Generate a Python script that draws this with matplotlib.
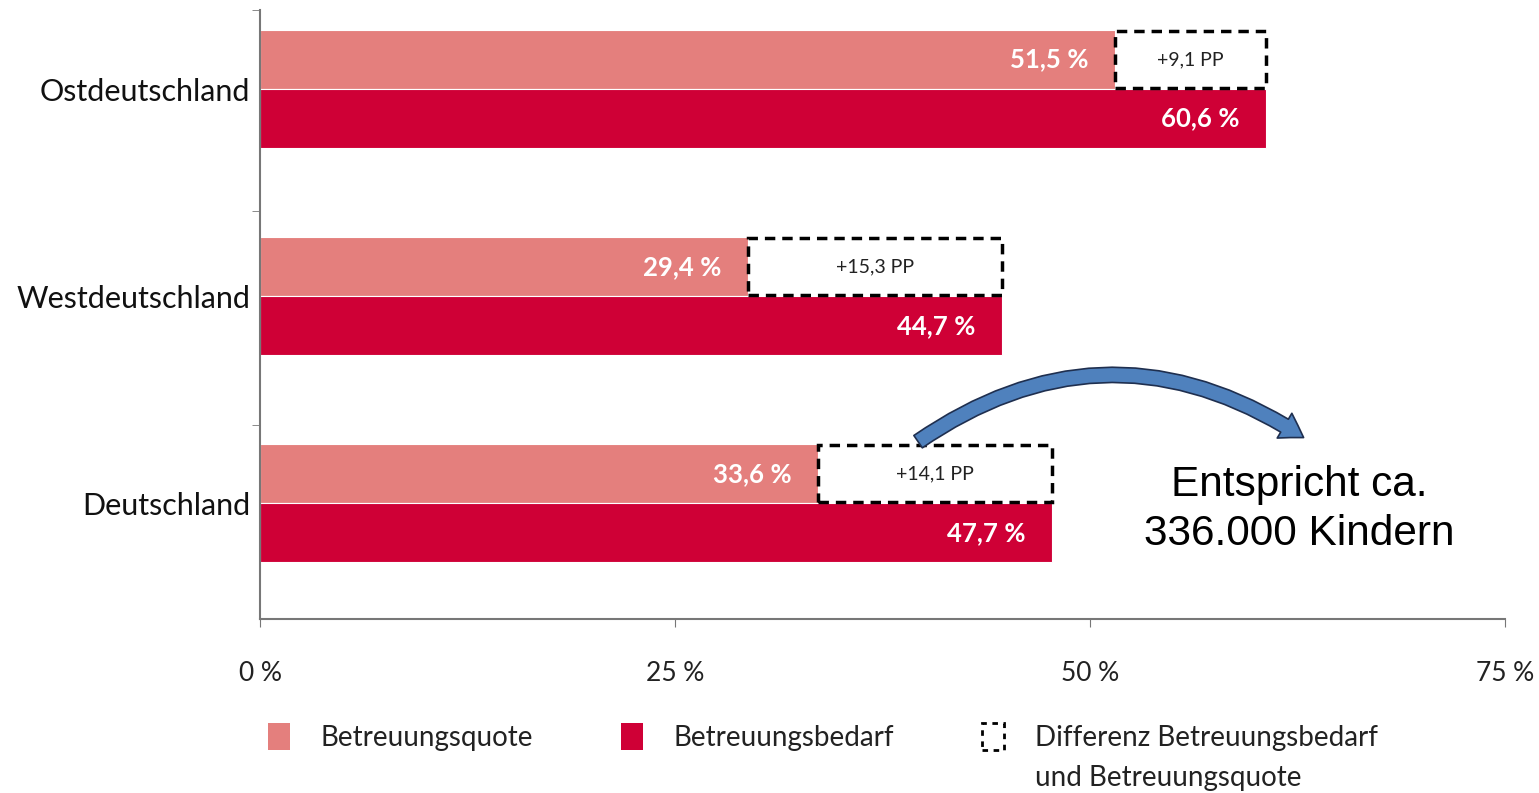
import matplotlib
matplotlib.use("Agg")
import matplotlib.pyplot as plt
from matplotlib.patches import Patch, FancyArrowPatch

plt.rcParams['font.family'] = ['Lato', 'DejaVu Sans']

# Daten
regionen = ["Deutschland", "Westdeutschland", "Ostdeutschland"]
quote = [33.6, 29.4, 51.5]        # Betreuungsquote
bedarf = [47.7, 44.7, 60.6]       # Betreuungsbedarf
differenz = [14.1, 15.3, 9.1]     # Prozentpunkte
x_ticks = [0, 25, 50, 75]
x_labels = ["0\u202f%", "25\u202f%", "50\u202f%", "75\u202f%"]
legende = ["Betreuungsquote", "Betreuungsbedarf", "Differenz Betreuungsbedarf"]
legende_zeile2 = "und Betreuungsquote"
hinweis = "Entspricht ca.\n336.000 Kindern"

farbe_quote = "#E47F7D"
farbe_bedarf = "#CF0036"

def fmt(v):
    return f"{v:.1f}".replace(".", ",")

fig = plt.figure(figsize=(15.39, 7.93), dpi=100)
ax = fig.add_axes([0.169, 0.219, 0.809, 0.768])

pos = list(range(len(regionen)))
h = 0.285

# Balken: Quote oben, Bedarf unten
ax.barh([p + h / 2 for p in pos], quote, height=h, color=farbe_quote,
        edgecolor="white", linewidth=0.8)
ax.barh([p - h / 2 for p in pos], bedarf, height=h, color=farbe_bedarf,
        edgecolor="white", linewidth=0.8)
# gestrichelte Differenz-Kästen
ax.barh([p + h / 2 for p in pos], differenz, left=quote, height=h * 0.97,
        color="white", edgecolor="black", linestyle=(0, (3, 2)), linewidth=2.5)

for p, q, b, d in zip(pos, quote, bedarf, differenz):
    ax.annotate(fmt(q) + "\u202f%", (q, p + h / 2), xytext=(-19, 0),
                textcoords="offset points", ha="right", va="center",
                color="white", fontsize=18.5, fontweight="bold")
    ax.annotate(fmt(b) + "\u202f%", (b, p - h / 2), xytext=(-19, 0),
                textcoords="offset points", ha="right", va="center",
                color="white", fontsize=18.5, fontweight="bold")
    ax.text(q + d / 2, p + h / 2, "+" + fmt(d) + "\u202fPP", ha="center",
            va="center", fontsize=14, color="#222222")

ax.set_xlim(0, 75)
ax.set_ylim(-0.56, 2.38)
ax.set_xticks(x_ticks)
ax.set_xticklabels(x_labels, fontsize=19, color="#222222")
ax.set_yticks(pos)
ax.set_yticklabels(regionen, fontsize=22, color="#111111")
ax.set_yticks([0.38, 1.41, 2.38], minor=True)
ax.tick_params(axis="y", which="major", length=0, pad=7)
ax.tick_params(axis="y", which="minor", length=6, color="#777777")
ax.tick_params(axis="x", length=6, color="#777777", pad=24)

for s in ["top", "right"]:
    ax.spines[s].set_visible(False)
ax.spines["left"].set_color("#777777")
ax.spines["bottom"].set_color("#777777")
ax.spines["left"].set_linewidth(1.5)
ax.spines["bottom"].set_linewidth(1.5)

# gebogener Pfeil zur Anmerkung
pfeil = FancyArrowPatch((39.5, 0.29), (63.0, 0.31),
                        connectionstyle="arc3,rad=-0.34",
                        arrowstyle="simple,tail_width=0.6,head_width=1.15,head_length=0.9",
                        mutation_scale=18, facecolor="#4F81BD",
                        edgecolor="#1F2F4F", linewidth=1.2)
ax.add_patch(pfeil)
ax.text(62.6, -0.03, hinweis, ha="center", va="center", fontsize=30.5,
        family=["Liberation Sans", "DejaVu Sans"], linespacing=1.27)

handles = [
    Patch(facecolor=farbe_quote, edgecolor="none", label=legende[0]),
    Patch(facecolor=farbe_bedarf, edgecolor="none", label=legende[1]),
    Patch(facecolor="white", edgecolor="black", linestyle=(0, (2, 2)),
          linewidth=2, label=legende[2]),
]
leg = fig.legend(handles=handles, loc="upper left", bbox_to_anchor=(0.158, 0.12),
                 ncol=3, frameon=False, fontsize=20, handlelength=0.8,
                 handleheight=1.1, handletextpad=1.1, columnspacing=3.15,
                 labelcolor="#222222")

# zweite Zeile des dritten Legendeneintrags
fig.canvas.draw()
bb = leg.get_texts()[2].get_window_extent().transformed(fig.transFigure.inverted())
fig.text(bb.x0, (bb.y0 + bb.y1) / 2 - 40 / 793, legende_zeile2, ha="left",
         va="center", fontsize=20, color="#222222")

fig.savefig("out.png", dpi=100)
